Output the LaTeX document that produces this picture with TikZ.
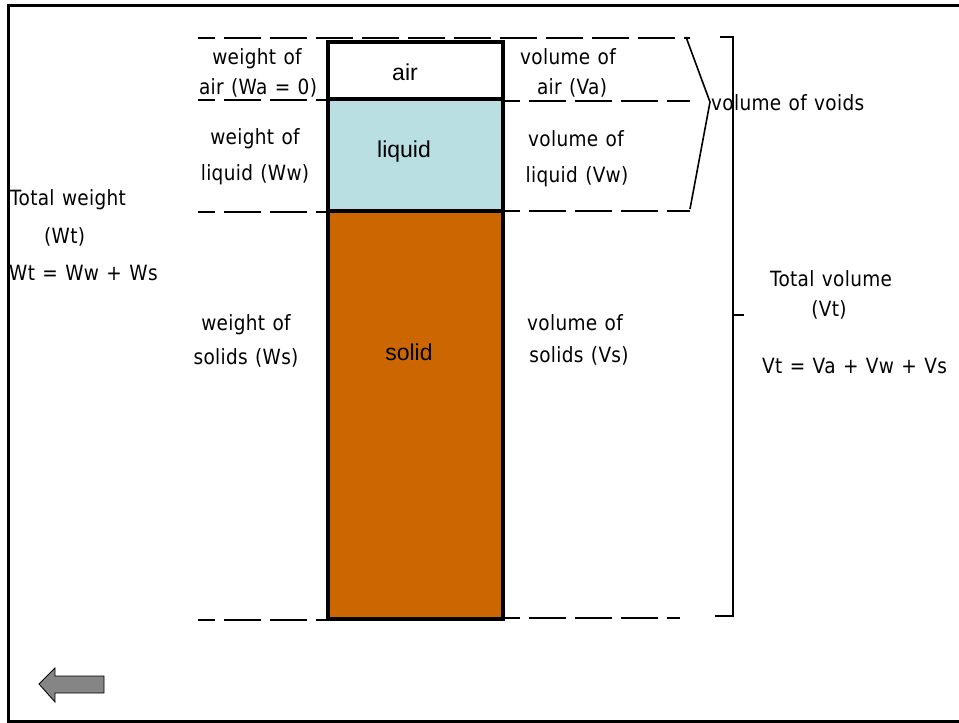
\documentclass[tikz,border=0pt]{standalone}
\usepackage{fontspec}
\setmainfont{DejaVu Sans}[FakeStretch=0.88, WordSpace=1.2, LetterSpace=1.5]
\newfontfamily\boxfont{Liberation Sans}
\begin{document}
\begin{tikzpicture}[x=1pt,y=-1pt,
  lbl/.style={font=\fontsize{21}{21}\selectfont, inner sep=0pt, anchor=base},
  lbll/.style={lbl, anchor=base west},
  phase/.style={font=\boxfont\fontsize{23}{23}\selectfont, inner sep=0pt},
  cut/.style={line width=2pt, dash pattern=on 37pt off 9pt, dash phase=20pt},
  bracket/.style={line width=1.6pt},
  outline/.style={line width=3.5pt}]
\definecolor{liquidc}{HTML}{B9DFE2}
\definecolor{solidc}{HTML}{CC6600}
\definecolor{arrowc}{HTML}{858585}
\useasboundingbox (0,0) rectangle (959,723);

% page frame (open on the right)
\draw[line width=3pt] (965,5) -- (8,5) -- (8,721) -- (965,721);

% phase column
\coordinate (ctl) at (328,42);
\coordinate (cbr) at (503,619);
\fill[white]   (328,42)  rectangle (503,99);
\fill[liquidc] (328,99)  rectangle (503,211);
\fill[solidc]  (328,211) rectangle (503,619);
\draw[outline] (328,99) -- (503,99);
\draw[outline] (328,211) -- (503,211);
\draw[outline] (ctl) rectangle (cbr);

\node[phase] (air)    at (405,72)  {air};
\node[phase] (liquid) at (404,152) {liquid};
\node[phase] (solid)  at (409,352) {solid};

% section lines
\draw[cut] (198,38) -- (690,38);
\draw[cut] (198,100) -- (328,100);
\draw[cut] (503,101) -- (690,101);
\draw[cut] (198,212) -- (328,212);
\draw[cut] (503,211) -- (690,211);
\draw[cut] (198,620) -- (328,620);
\draw[cut] (503,618) -- (680,618);

% volume of voids brace
\coordinate (vtop) at (686,37);
\coordinate (vtip) at (710,102);
\coordinate (vbot) at (690,209);
\draw[bracket] (vtop) -- (vtip) -- (vbot);

% total volume bracket
\coordinate (ttop) at (720,37);
\coordinate (tbot) at (715,616);
\draw[bracket] (ttop) -- (733,37) -- (733,616) -- (tbot);
\draw[bracket] (733,315) -- (744,315);

% weight labels
\node[lbl] (wa1) at (257,64)  {weight of};
\node[lbl] (wa2) at (258,94)  {air (Wa = 0)};
\node[lbl] (ww1) at (255,144) {weight of};
\node[lbl] (ww2) at (255,180) {liquid (Ww)};
\node[lbl] (ws1) at (246,330) {weight of};
\node[lbl] (ws2) at (246,364) {solids (Ws)};

\node[lbll] (wt1) at (10,205)  {Total weight};
\node[lbll] (wt2) at (44,243)  {(Wt)};
\node[lbll] (wt3) at (9,280)  {Wt = Ww + Ws};

% volume labels
\node[lbl] (va1) at (568,64)  {volume of};
\node[lbl] (va2) at (572,94)  {air (Va)};
\node[lbl] (vw1) at (576,146) {volume of};
\node[lbl] (vw2) at (577,182) {liquid (Vw)};
\node[lbl] (vs1) at (575,330) {volume of};
\node[lbl] (vs2) at (579,362) {solids (Vs)};

\node[lbll] (vv) at (711,110) {volume of voids};

\node[lbl] (vt1) at (831,286) {Total volume};
\node[lbl] (vt2) at (829,316) {(Vt)};
\node[lbll] (vt3) at (762,373) {Vt = Va + Vw + Vs};

% back arrow
\filldraw[fill=arrowc, draw=black, line width=0.8pt]
  (39,684) -- (55,668) -- (55,676) -- (104,676) -- (104,693) -- (55,693) -- (55,702) -- cycle;
\end{tikzpicture}
\end{document}
